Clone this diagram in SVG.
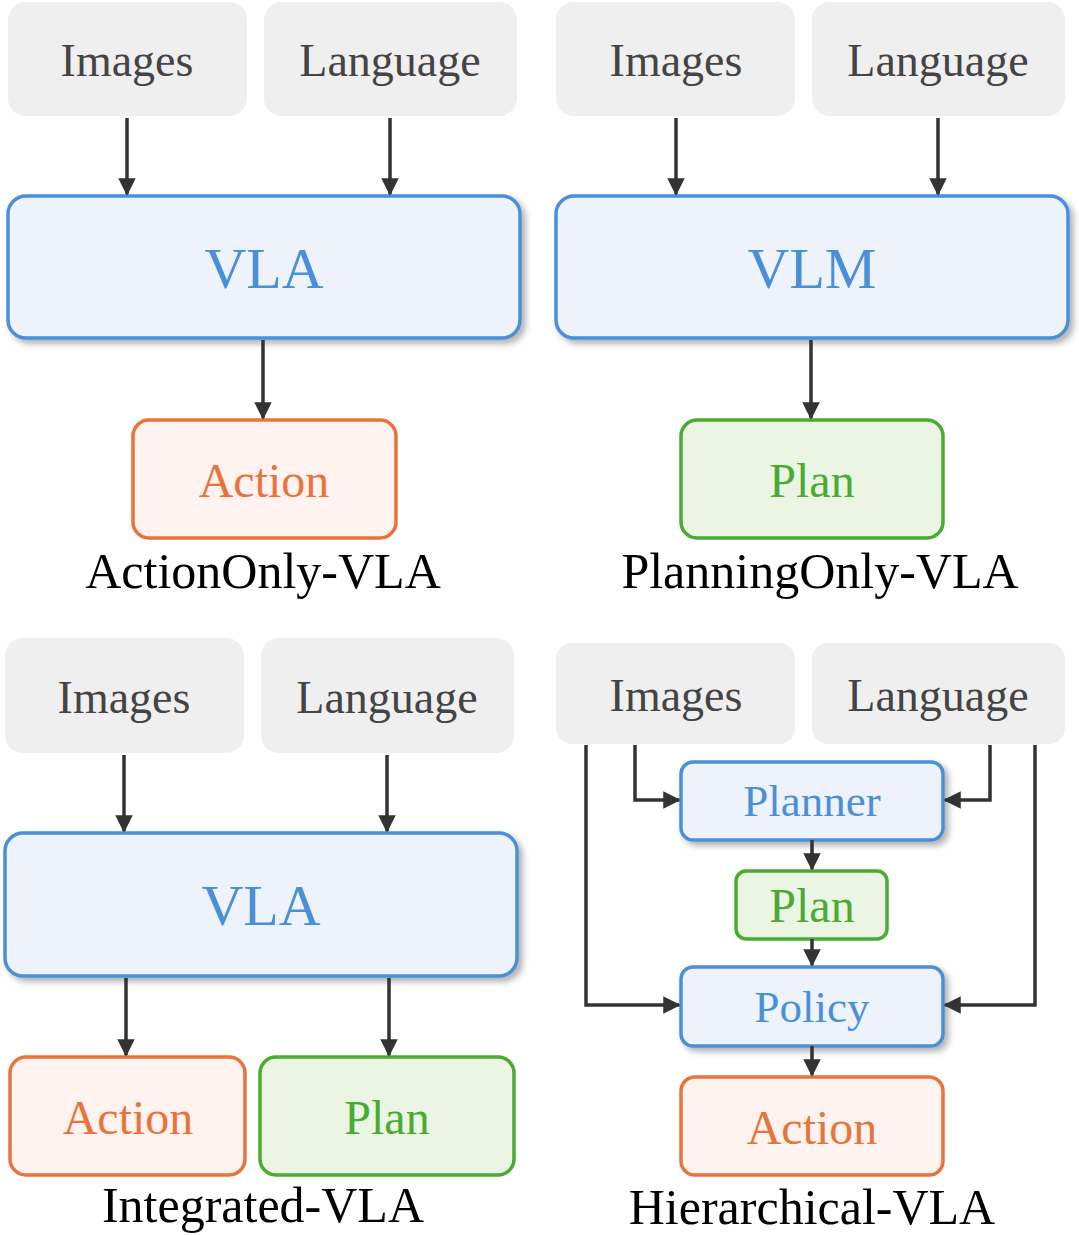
<svg xmlns="http://www.w3.org/2000/svg" width="1079" height="1235" viewBox="0 0 1079 1235">
<defs>
<marker id="ah" viewBox="0 0 10 10" refX="9" refY="5" markerWidth="5" markerHeight="5" orient="auto"><path d="M0,0 L10,5 L0,10 z" fill="#333"/></marker>
<filter id="sh" x="-10%" y="-10%" width="125%" height="130%"><feDropShadow dx="4" dy="4" stdDeviation="3" flood-color="#000" flood-opacity="0.3"/></filter>
</defs>
<style>
text{font-family:"Liberation Serif","DejaVu Serif",serif;text-anchor:middle;dominant-baseline:central}
.in{fill:#efefef}
.int{fill:#444;font-size:46px}
.m{fill:#eef3fb;stroke:#4a90d9;stroke-width:3.5;filter:url(#sh)}
.mt{fill:#4a90d9}
.a{fill:#fef3ef;stroke:#e8743b;stroke-width:3.5}
.at{fill:#e8743b;font-size:48px}
.p{fill:#ebf5e4;stroke:#4aaa32;stroke-width:3.5}
.pt{fill:#4aaa32;font-size:48px}
.cap{fill:#000;font-size:50px}
.c path{fill:none;stroke:#333;stroke-width:3.5;marker-end:url(#ah)}
</style>
<g id="p1">
<g id="img1"><rect class="in" x="8" y="2" width="239" height="114" rx="18"/><text class="int" x="127" y="60">Images</text></g>
<g id="lang1"><rect class="in" x="264" y="2" width="253" height="114" rx="18"/><text class="int" x="390" y="60">Language</text></g>
<g id="vla1"><rect class="m" x="8" y="196" width="512" height="142" rx="18"/><text class="mt" x="264" y="268" font-size="58">VLA</text></g>
<g id="act1"><rect class="a" x="133" y="420" width="263" height="118" rx="16"/><text class="at" x="264" y="480">Action</text></g>
<text class="cap" x="263" y="571">ActionOnly-VLA</text>
</g>
<g id="p2">
<g id="img2"><rect class="in" x="556" y="2" width="239" height="114" rx="18"/><text class="int" x="676" y="60">Images</text></g>
<g id="lang2"><rect class="in" x="812" y="2" width="253" height="114" rx="18"/><text class="int" x="938" y="60">Language</text></g>
<g id="vlm2"><rect class="m" x="556" y="196" width="512" height="142" rx="18"/><text class="mt" x="812" y="268" font-size="58">VLM</text></g>
<g id="plan2"><rect class="p" x="681" y="420" width="262" height="118" rx="16"/><text class="pt" x="812" y="480">Plan</text></g>
<text class="cap" x="820" y="571">PlanningOnly-VLA</text>
</g>
<g id="p3">
<g id="img3"><rect class="in" x="5" y="638" width="239" height="115" rx="18"/><text class="int" x="124" y="697">Images</text></g>
<g id="lang3"><rect class="in" x="261" y="638" width="253" height="115" rx="18"/><text class="int" x="387" y="697">Language</text></g>
<g id="vla3"><rect class="m" x="5" y="833" width="512" height="143" rx="18"/><text class="mt" x="261" y="905" font-size="58">VLA</text></g>
<g id="act3"><rect class="a" x="10" y="1057" width="235" height="118" rx="16"/><text class="at" x="128" y="1117">Action</text></g>
<g id="plan3"><rect class="p" x="260" y="1057" width="254" height="118" rx="16"/><text class="pt" x="387" y="1117">Plan</text></g>
<text class="cap" x="263" y="1205">Integrated-VLA</text>
</g>
<g id="p4">
<g id="img4"><rect class="in" x="556" y="643" width="239" height="101" rx="16"/><text class="int" x="676" y="695">Images</text></g>
<g id="lang4"><rect class="in" x="812" y="643" width="253" height="101" rx="16"/><text class="int" x="938" y="695">Language</text></g>
<g id="planner4"><rect class="m" x="681" y="762" width="262" height="78" rx="12"/><text class="mt" x="812" y="801" font-size="45">Planner</text></g>
<g id="plan4"><rect class="p" x="736" y="871" width="151" height="68" rx="10"/><text class="pt" x="812" y="905" font-size="45">Plan</text></g>
<g id="policy4"><rect class="m" x="681" y="967" width="262" height="79" rx="12"/><text class="mt" x="812" y="1007" font-size="45">Policy</text></g>
<g id="act4"><rect class="a" x="681" y="1077" width="262" height="98" rx="14"/><text class="at" x="812" y="1127">Action</text></g>
<text class="cap" x="812" y="1207">Hierarchical-VLA</text>
</g>
<g id="connectors" class="c">
<path d="M127,118 V194"/><path d="M390,118 V194"/><path d="M263,340 V418"/>
<path d="M676,118 V194"/><path d="M938,118 V194"/><path d="M811,340 V418"/>
<path d="M124,755 V831"/><path d="M387,755 V831"/><path d="M126,978 V1055"/><path d="M389,978 V1055"/>
<path d="M586,745 V1005 H679"/><path d="M635,745 V800 H679"/><path d="M990,745 V800 H945"/><path d="M1035,745 V1005 H945"/>
<path d="M812,840 V869"/><path d="M812,939 V965"/><path d="M812,1046 V1075"/>
</g>
</svg>
